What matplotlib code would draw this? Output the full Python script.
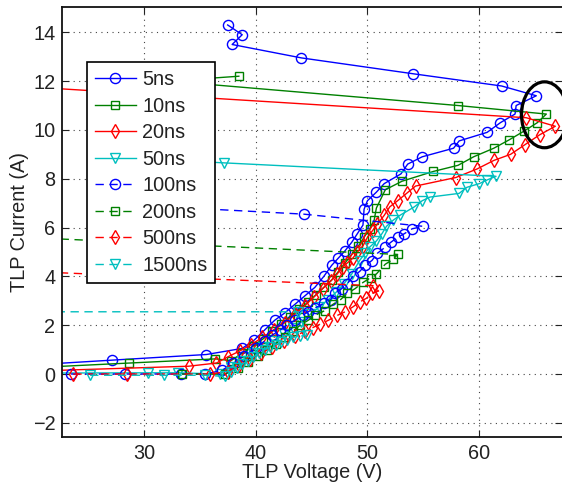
import matplotlib
matplotlib.use("Agg")
import matplotlib.pyplot as plt
from matplotlib.patches import Ellipse

plt.rcParams['font.family'] = ['Liberation Sans', 'DejaVu Sans']

labels = ['5ns', '10ns', '20ns', '50ns', '100ns', '200ns', '500ns', '1500ns']

v_5ns = [12.0, 27.2, 35.6, 38.8, 39.9, 40.8, 41.7, 42.6, 43.5, 44.4, 45.3, 46.1, 46.8, 47.4, 48.0, 48.6,
         49.1, 49.6, 49.7, 50.0, 50.8, 51.5, 53.0, 53.6, 54.9, 57.7, 58.2, 60.7, 61.9, 63.2, 63.3, 65.1,
         62.0, 54.1, 44.1, 37.9, 38.8, 37.5]
i_5ns = [0.15, 0.57, 0.80, 1.05, 1.40, 1.80, 2.20, 2.50, 2.85, 3.20, 3.55, 4.00, 4.45, 4.75, 5.05, 5.40,
         5.75, 6.10, 6.75, 7.10, 7.45, 7.80, 8.20, 8.60, 8.90, 9.25, 9.55, 9.90, 10.30, 10.65, 11.00, 11.40,
         11.80, 12.30, 12.95, 13.50, 13.90, 14.30]

v_10ns = [12.0, 28.7, 36.4, 37.8, 38.8, 39.8, 40.7, 41.5, 42.3, 43.1, 43.9, 44.7, 45.4, 46.1, 46.8, 47.4,
          48.0, 48.6, 49.2, 49.7, 50.2, 50.6, 50.8, 51.6, 53.1, 55.9, 58.1, 59.5, 61.3, 62.7, 64.0, 65.2,
          66.0, 58.1, 32.3, 38.5]
i_10ns = [0.08, 0.45, 0.62, 0.55, 0.85, 1.15, 1.45, 1.75, 2.05, 2.35, 2.65, 2.95, 3.25, 3.55, 3.85, 4.20,
          4.55, 4.90, 5.25, 5.60, 5.95, 6.30, 6.80, 7.55, 7.90, 8.30, 8.55, 8.90, 9.25, 9.60, 9.95, 10.30,
          10.65, 11.00, 12.00, 12.20]

v_20ns = [12.0, 34.0, 36.5, 37.5, 38.6, 39.6, 40.6, 41.6, 42.6, 43.5, 44.4, 45.2, 46.0, 46.7, 47.3, 47.8,
          48.2, 48.7, 49.1, 49.6, 50.0, 50.5, 50.9, 51.5, 52.0, 52.7, 53.5, 54.3, 57.9, 59.8, 61.3, 62.8,
          64.1, 65.4, 66.8, 64.2, 15.0]
i_20ns = [0.0, 0.32, 0.45, 0.70, 0.95, 1.20, 1.50, 1.80, 2.10, 2.45, 2.80, 3.15, 3.50, 3.80, 4.10, 4.40,
          4.55, 4.75, 5.00, 5.25, 5.60, 5.90, 6.15, 6.50, 6.85, 7.10, 7.40, 7.70, 8.05, 8.40, 8.75, 9.00,
          9.40, 9.80, 10.15, 10.50, 11.90]

v_50ns = [12.0, 30.4, 33.1, 36.8, 37.8, 38.8, 39.8, 40.7, 41.6, 42.5, 43.3, 44.1, 44.9, 45.7, 46.5, 47.2,
          47.9, 48.6, 49.3, 49.8, 50.2, 50.8, 51.3, 51.7, 52.3, 52.9, 54.2, 54.9, 55.6, 58.2, 58.9, 60.0,
          60.7, 61.5, 37.2, 33.0]
i_50ns = [0.03, 0.05, 0.05, 0.00, 0.30, 0.55, 0.85, 1.10, 1.35, 1.65, 1.90, 2.15, 2.45, 2.75, 3.05, 3.35,
          3.70, 4.10, 4.65, 4.95, 5.20, 5.45, 5.75, 6.05, 6.30, 6.50, 6.85, 7.10, 7.25, 7.40, 7.65, 7.80,
          7.95, 8.10, 8.65, 8.75]

v_100ns = [23.5, 28.3, 33.3, 35.5, 37.0, 38.0, 39.0, 40.0, 40.8, 41.5, 42.2, 42.8, 43.5, 44.2, 44.7, 45.3,
           46.1, 46.7, 47.1, 47.7, 48.2, 48.7, 49.3, 49.8, 50.4, 50.9, 51.6, 52.1, 52.7, 53.3, 54.0, 55.0,
           44.3, 32.0]
i_100ns = [0.0, 0.0, 0.0, 0.0, 0.15, 0.45, 0.75, 1.05, 1.35, 1.60, 1.80, 2.00, 2.20, 2.40, 2.55, 2.70,
           2.90, 3.05, 3.30, 3.50, 3.70, 4.00, 4.20, 4.45, 4.65, 4.95, 5.20, 5.40, 5.60, 5.75, 5.95, 6.05,
           6.55, 6.85]

v_200ns = [33.4, 37.3, 38.4, 39.3, 40.2, 41.0, 41.8, 42.6, 43.3, 44.0, 44.7, 45.3, 46.2, 46.9, 47.6, 48.2,
           48.9, 49.6, 50.3, 50.8, 51.6, 52.3, 52.7, 15.0]
i_200ns = [0.0, 0.0, 0.25, 0.50, 0.75, 1.00, 1.25, 1.50, 1.75, 2.00, 2.20, 2.40, 2.60, 2.85, 3.05, 3.30,
           3.50, 3.75, 3.95, 4.10, 4.50, 4.70, 4.90, 5.69]

v_500ns = [23.7, 28.5, 35.9, 37.5, 38.5, 39.5, 40.5, 41.5, 42.5, 43.5, 44.4, 45.1, 45.8, 46.5, 47.3, 48.0,
           48.7, 49.3, 49.9, 50.4, 51.0, 50.5, 15.0]
i_500ns = [0.0, 0.0, 0.0, 0.10, 0.35, 0.60, 0.85, 1.10, 1.35, 1.55, 1.75, 1.90, 2.05, 2.20, 2.40, 2.55,
           2.75, 2.95, 3.10, 3.30, 3.40, 3.62, 4.29]

v_1500ns = [25.2, 31.8, 35.5, 37.3, 37.8, 38.3, 38.8, 39.3, 39.8, 40.3, 40.8, 41.3, 41.8, 42.3, 42.8, 43.3,
            44.0, 44.6, 43.8, 15.0]
i_1500ns = [-0.05, -0.05, -0.05, -0.10, 0.10, 0.25, 0.40, 0.55, 0.70, 0.85, 1.00, 1.10, 1.20, 1.30, 1.40, 1.50,
            1.55, 1.60, 2.55, 2.55]

xticks = [30, 40, 50, 60]
yticks = [-2, 0, 2, 4, 6, 8, 10, 12, 14]

series = [
    (v_5ns, i_5ns, '#0000ff', 'o', '-'),
    (v_10ns, i_10ns, '#008000', 's', '-'),
    (v_20ns, i_20ns, '#ff0000', 'd', '-'),
    (v_50ns, i_50ns, '#00bfbf', 'v', '-'),
    (v_100ns, i_100ns, '#0000ff', 'o', (0, (6, 4))),
    (v_200ns, i_200ns, '#008000', 's', (0, (6, 4))),
    (v_500ns, i_500ns, '#ff0000', 'd', (0, (6, 4))),
    (v_1500ns, i_1500ns, '#00bfbf', 'v', (0, (6, 4))),
]

fig = plt.figure(figsize=(5.62, 4.86), dpi=100)
ax = fig.add_axes([0.111, 0.0998, 0.889, 0.885])

for (v, i, c, m, ls), lab in zip(series, labels):
    ms = 6.3 if m == 's' else 7.3
    ax.plot(v, i, color=c, marker=m, linestyle=ls, linewidth=1.0, markersize=ms,
            markerfacecolor='none', markeredgecolor=c, markeredgewidth=1.0, label=lab)

ax.add_patch(Ellipse((65.84, 10.62), 4.12, 2.70, fill=False, edgecolor='black', linewidth=2.3, zorder=10))

ax.set_xlim(22.72, 67.4)
ax.set_ylim(-2.6, 15.02)
ax.set_xticks(xticks)
ax.set_yticks(yticks)
ax.set_yticklabels(['\u22122' if t < 0 else str(t) for t in yticks])
ax.grid(True, linestyle=(0, (1, 4)), color='#444444', linewidth=0.8)
ax.tick_params(direction='in', top=True, right=True, labelsize=14.3, length=5, width=0.8,
               colors='#222222', pad=5)
for s in ['left', 'bottom', 'top']:
    ax.spines[s].set_linewidth(1.3)
    ax.spines[s].set_color('#111111')
ax.spines['right'].set_visible(False)

ax.set_xlabel('TLP Voltage (V)', fontsize=14.3, color='#222222', labelpad=0)
ax.set_ylabel('TLP Current (A)', fontsize=14.3, color='#222222', labelpad=3)

leg = ax.legend(loc='upper left', bbox_to_anchor=(0.0486, 0.873), borderaxespad=0,
                fontsize=14.3, frameon=True, fancybox=False, edgecolor='black', framealpha=1,
                handlelength=2.1, handletextpad=0.3, labelspacing=0.38, borderpad=0.4, numpoints=1)
leg.get_frame().set_linewidth(1.2)
leg.set_zorder(20)
for t in leg.get_texts():
    t.set_color('#222222')

fig.savefig('out.png', dpi=100)
